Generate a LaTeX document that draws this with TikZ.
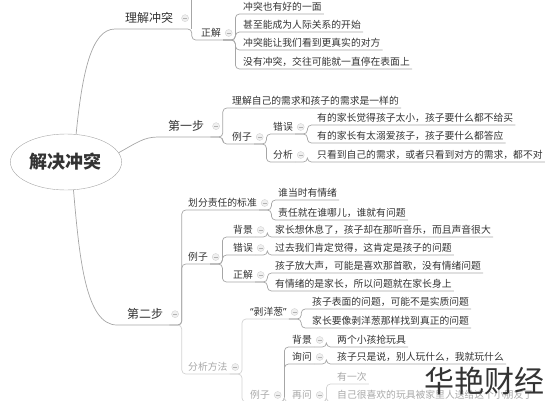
\documentclass[tikz,border=0pt]{standalone}
\usepackage{fontspec}
\setmainfont{Noto Sans CJK SC}
\newfontfamily\quotefont{Noto Sans}
\usetikzlibrary{shapes.geometric}
\usetikzlibrary{positioning}
\usetikzlibrary{calc}
\definecolor{ink}{HTML}{333333}
\definecolor{wire}{HTML}{A6A6A6}
\definecolor{fadeink}{HTML}{A8A8A8}
\definecolor{fadewire}{HTML}{D2D2D2}
\tikzset{
  topic/.style = {anchor=south west, inner xsep=2pt, inner ysep=2.3pt,
    text height=8pt, text depth=1pt, text=ink,
    font=\fontsize{9.8}{10}\selectfont},% sous-sujet
  main_topic/.style = {topic, inner xsep=6pt, inner ysep=5.4pt,
    text height=9.5pt, font=\fontsize{12}{13}\selectfont},% sujet principal
  root_topic/.style = {ellipse, draw=wire, fill=white, text=ink,
    minimum width=108pt, minimum height=56pt,
    font=\fontsize{18}{20}\selectfont\bfseries},% sujet central
  fold/.style = {circle, draw=gray!35, fill=gray!12, minimum size=7pt,
    inner sep=0pt, path picture={\draw[gray!60]
      ([xshift=-2pt]path picture bounding box.center) --
      ([xshift=2pt]path picture bounding box.center);}},% bouton replier
  conn/.style = {draw=wire, line width=0.7pt, rounded corners=4pt},
  faded/.style = {text=fadeink},
  faded_conn/.style = {draw=fadewire},
  watermark/.style = {font=\fontsize{30}{32}\selectfont, text=ink}
}
% parent -> enfant : ligne sous le parent, accolade, ligne sous l'enfant
\newcommand{\branch}[3][]{\draw[conn,#1] (#2.south east) --
  ($(#2f.east |- #2.south)+(3,0)$) |- (#3.south east);}

\begin{document}
\begin{tikzpicture}[x=1pt, y=-1pt]
    \clip (0,0) rectangle (552,400);
    \node [root_topic] (root) at (66,162) {解决冲突};

    % theme 1
    \node [main_topic] (A) at (119,29) {理解冲突};
    \node [fold, right=2pt of A] (Af) {};
    \node [topic] (A1) at (199,40) {正解};
    \node [fold, right=2pt of A1] (A1f) {};
    \node [topic] (A11) at (241,14) {冲突也有好的一面};
    \node [topic] (A12) at (241,32) {甚至能成为人际关系的开始};
    \node [topic] (A13) at (241,50) {冲突能让我们看到更真实的对方};
    \node [topic] (A14) at (241,69) {没有冲突，交往可能就一直停在表面上};

    % theme 2
    \node [main_topic] (B) at (162,137) {第一步};
    \node [fold, right=2pt of B] (Bf) {};
    \node [topic] (B1) at (230,108) {理解自己的需求和孩子的需求是一样的};
    \node [topic] (B2) at (230,144) {例子};
    \node [fold, right=2pt of B2] (B2f) {};
    \node [topic] (B21) at (271,134) {错误};
    \node [fold, right=2pt of B21] (B21f) {};
    \node [topic] (B22) at (271,162) {分析};
    \node [fold, right=2pt of B22] (B22f) {};
    \node [topic] (B211) at (315,125) {有的家长觉得孩子太小，孩子要什么都不给买};
    \node [topic] (B212) at (315,143) {有的家长有太溺爱孩子，孩子要什么都答应};
    \node [topic] (B221) at (315,162) {只看到自己的需求，或者只看到对方的需求，都不对};

    % theme 3
    \node [main_topic] (C) at (121,325) {第二步};
    \node [fold, right=2pt of C] (Cf) {};
    \node [topic] (C1) at (186,210) {划分责任的标准};
    \node [fold, right=2pt of C1] (C1f) {};
    \node [topic] (C11) at (276,200) {谁当时有情绪};
    \node [topic] (C12) at (276,220) {责任就在谁哪儿，谁就有问题};
    \node [topic] (C2) at (186,264) {例子};
    \node [fold, right=2pt of C2] (C2f) {};
    \node [topic] (C21) at (231,237) {背景};
    \node [fold, right=2pt of C21] (C21f) {};
    \node [topic] (C211) at (273,237) {家长想休息了，孩子却在那听音乐，而且声音很大};
    \node [topic] (C22) at (231,255) {错误};
    \node [fold, right=2pt of C22] (C22f) {};
    \node [topic] (C221) at (273,255) {过去我们肯定觉得，这肯定是孩子的问题};
    \node [topic] (C23) at (231,282) {正解};
    \node [fold, right=2pt of C23] (C23f) {};
    \node [topic] (C231) at (273,273) {孩子放大声，可能是喜欢那首歌，没有情绪问题};
    \node [topic] (C232) at (273,291) {有情绪的是家长，所以问题就在家长身上};
    \node [topic, faded] (C3) at (186,374) {分析方法};
    \node [fold, right=2pt of C3] (C3f) {};
    \node [topic] (C31) at (248,319) {{\quotefont “}剥洋葱{\quotefont ”}};
    \node [fold, right=2pt of C31] (C31f) {};
    \node [topic] (C311) at (310,309) {孩子表面的问题，可能不是实质问题};
    \node [topic] (C312) at (310,328) {家长要像剥洋葱那样找到真正的问题};
    \node [topic, faded] (C32) at (248,402) {例子};
    \node [fold, right=2pt of C32] (C32f) {};
    \node [topic] (C321) at (290,347) {背景};
    \node [fold, right=2pt of C321] (C321f) {};
    \node [topic] (C3211) at (335,347) {两个小孩抢玩具};
    \node [topic] (C322) at (290,364) {询问};
    \node [fold, right=2pt of C322] (C322f) {};
    \node [topic] (C3221) at (335,364) {孩子只是说，别人玩什么，我就玩什么};
    \node [topic, faded] (C323) at (290,402) {再问};
    \node [fold, right=2pt of C323] (C323f) {};
    \node [topic, faded] (C3231) at (335,384) {有一次};
    \node [topic, faded] (C3232) at (335,402) {自己很喜欢的玩具被家里人送给这个小朋友了};

    \node [watermark] (brand) at (484,381) {华艳财经};

    % branches from the centre
    \draw [conn] (root.70) .. controls +(6,-60) and +(-28,0) .. (A.south west) -- (A.south east);
    \draw [conn] (root.10) .. controls +(18,-10) and +(-18,0) .. (B.south west) -- (B.south east);
    \draw [conn] (root.-75) .. controls +(6,70) and +(-35,0) .. (C.south west) -- (C.south east);

    \branch{A}{A1}
    \draw [conn] ($(Af.east |- A.south)+(3,0)$) -- ++(0,-35);
    \foreach \c in {A11,A12,A13,A14} {\branch{A1}{\c}}

    \foreach \c in {B1,B2} {\branch{B}{\c}}
    \foreach \c in {B21,B22} {\branch{B2}{\c}}
    \foreach \c in {B211,B212} {\branch{B21}{\c}}
    \branch{B22}{B221}

    \foreach \c in {C1,C2} {\branch{C}{\c}}
    \branch[faded_conn]{C}{C3}
    \foreach \c in {C11,C12} {\branch{C1}{\c}}
    \foreach \c in {C21,C22,C23} {\branch{C2}{\c}}
    \branch{C21}{C211}
    \branch{C22}{C221}
    \foreach \c in {C231,C232} {\branch{C23}{\c}}
    \foreach \c in {C31,C32} {\branch[faded_conn]{C3}{\c}}
    \foreach \c in {C311,C312} {\branch{C31}{\c}}
    \foreach \c in {C321,C322} {\branch{C32}{\c}}
    \branch[faded_conn]{C32}{C323}
    \branch{C321}{C3211}
    \branch{C322}{C3221}
    \foreach \c in {C3231,C3232} {\branch[faded_conn]{C323}{\c}}
\end{tikzpicture}
\end{document}
